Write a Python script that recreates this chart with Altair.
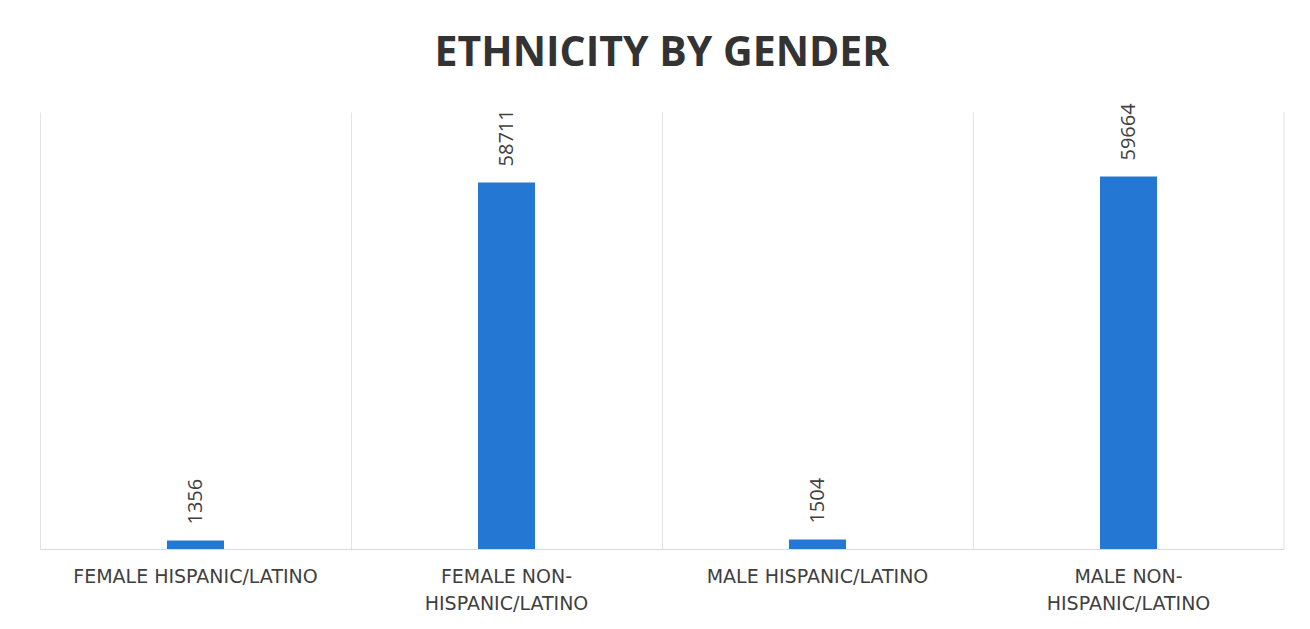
import altair as alt
import pandas as pd

categories = ["FEMALE HISPANIC/LATINO", "FEMALE NON-|HISPANIC/LATINO",
              "MALE HISPANIC/LATINO", "MALE NON-|HISPANIC/LATINO"]
values = [1356, 58711, 1504, 59664]

df = pd.DataFrame({"cat": categories, "val": values})

x = alt.X("cat:N", sort=categories, title=None,
          scale=alt.Scale(paddingInner=0, paddingOuter=0),
          axis=alt.Axis(labelAngle=0, labelExpr="split(datum.label, '|')",
                        labelFont="DejaVu Sans", labelFontSize=19, labelColor="#3f3f3f",
                        labelLineHeight=27, labelPadding=18, ticks=False,
                        domainColor="#d9d9d9", grid=True, gridColor="#e3e3e3",
                        bandPosition=0, labelLimit=400))
y = alt.Y("val:Q", scale=alt.Scale(domain=[0, 70000]), axis=None)

bars = alt.Chart(df).mark_bar(size=57, color="#2478d4").encode(x=x, y=y)
text = alt.Chart(df).mark_text(angle=270, align="left", baseline="middle", dx=16,
                               font="Open Sans", fontSize=20, color="#404040").encode(
    x=alt.X("cat:N", sort=categories), y=y, text="val:Q")
edge = alt.Chart(pd.DataFrame({"v": [0]})).mark_rule(color="#e3e3e3").encode(
    x=alt.value(1244), y=alt.value(0), y2=alt.value(437))

chart = alt.layer(bars, text, edge).properties(
    width=1244, height=437,
    background="white",
    title=alt.TitleParams("ETHNICITY BY GENDER", font="Open Sans", fontSize=41,
                          fontWeight="bold", color="#333333", offset=28, anchor="middle"),
    autosize=alt.AutoSizeParams(type="none"),
    padding={"left": 32, "top": 104, "right": 14, "bottom": 70},
).configure_view(stroke="transparent")

chart.save("out.html", embed_options={"renderer": "svg", "actions": False})
